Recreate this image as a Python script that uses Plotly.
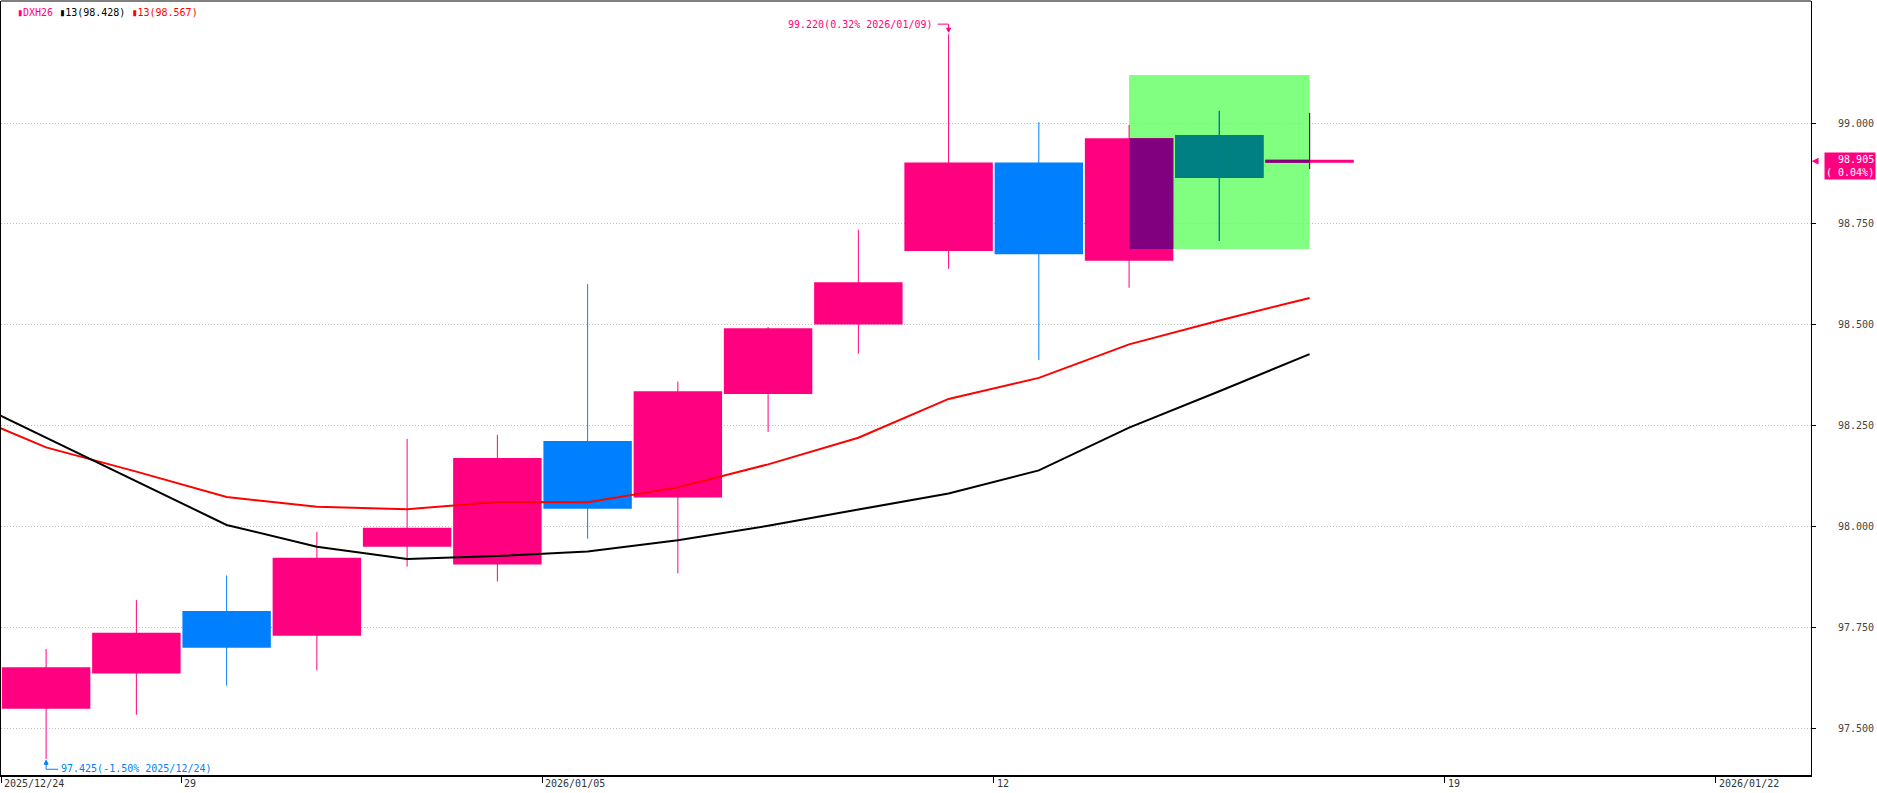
import plotly.graph_objects as go

# ---------------- data ----------------
dates = ["2025/12/24", "2025/12/26", "2025/12/29", "2025/12/30", "2025/12/31",
         "2026/01/02", "2026/01/05", "2026/01/06", "2026/01/07", "2026/01/08",
         "2026/01/09", "2026/01/12", "2026/01/13", "2026/01/14", "2026/01/15"]
opens = [97.550, 97.637, 97.792, 97.731, 97.951, 97.907, 98.213, 98.073, 98.329,
         98.501, 98.683, 98.902, 98.659, 98.970, 98.905]
highs = [97.698, 97.819, 97.880, 97.988, 98.218, 98.228, 98.601, 98.360, 98.495,
         98.736, 99.220, 99.002, 98.995, 99.030, 99.025]
lows = [97.425, 97.535, 97.607, 97.645, 97.902, 97.865, 97.971, 97.885, 98.235,
        98.429, 98.639, 98.413, 98.592, 98.708, 98.886]
closes = [97.653, 97.738, 97.701, 97.924, 97.998, 98.171, 98.045, 98.336, 98.492,
          98.606, 98.902, 98.675, 98.962, 98.864, 98.905]

ma_slots = list(range(-1, 15))
ma13_black = [98.329, 98.221, 98.113, 98.005, 97.951, 97.921, 97.928, 97.939, 97.967,
              98.003, 98.043, 98.083, 98.140, 98.246, 98.336, 98.428]
ma13_red = [98.291, 98.197, 98.137, 98.074, 98.050, 98.044, 98.062, 98.061, 98.098,
            98.155, 98.221, 98.317, 98.369, 98.452, 98.511, 98.567]

x_tick_slots = [0, 2, 6, 11, 16, 19]
x_tick_labels = ["2025/12/24", "29", "2026/01/05", "12", "19", "2026/01/22"]
y_ticks = [97.5, 97.75, 98.0, 98.25, 98.5, 98.75, 99.0]

box_slots = [12, 14]          # highlighted box (slot range)
box_prices = [98.688, 99.119]  # highlighted box (price range)

legend_names = ["DXH26", "13(98.428)", "13(98.567)"]
high_label = "99.220(0.32% 2026/01/09)"
low_label = "97.425(-1.50% 2025/12/24)"
last_label = ["98.905", "( 0.04%)"]

# ---------------- style ----------------
UP = "#FF0080"
DOWN = "#0080FF"
BOX = "#80FF80"
FONT = "DejaVu Sans Mono"
HW = 0.49


def and_color(c1, c2):
    a = int(c1[1:], 16)
    b = int(c2[1:], 16)
    return "#%06X" % (a & b)


fig = go.Figure()

n = len(dates)
xs = list(range(n))

bars = {}   # color -> dict(x, base, h, w)
wicks = {}  # color -> (x list, y list)
flats = {}


def add_bar(color, x0, x1, y0, y1):
    d = bars.setdefault(color, {"x": [], "base": [], "h": [], "w": []})
    d["x"].append((x0 + x1) / 2)
    d["w"].append(x1 - x0)
    d["base"].append(y0)
    d["h"].append(y1 - y0)


def add_seg(store, color, xa, ya, xb, yb):
    d = store.setdefault(color, ([], []))
    d[0].extend([xa, xb, None])
    d[1].extend([ya, yb, None])


mx0, mx1 = box_slots
my0, my1 = box_prices

for i in xs:
    o, h, l, c = opens[i], highs[i], lows[i], closes[i]
    col = DOWN if c < o else UP
    lo, hi = min(o, c), max(o, c)
    add_seg(wicks, col, i, l, i, h)
    if hi - lo > 1e-9:
        add_bar(col, i - HW, i + HW, lo, hi)
    else:
        add_seg(flats, col, i - HW, o, i + HW, o)
    # parts of the candle under the highlighted box (AND-blended colour)
    bcol = and_color(col, BOX)
    if mx0 < i <= mx1:
        ya, yb = max(l, my0), min(h, my1)
        if yb > ya:
            add_seg(wicks, bcol, i, ya, i, yb)
    xa, xb = max(i - HW, mx0), min(i + HW, mx1)
    if xb > xa:
        if hi - lo > 1e-9:
            ya, yb = max(lo, my0), min(hi, my1)
            if yb > ya:
                add_bar(bcol, xa, xb, ya, yb)
        elif my0 <= o <= my1:
            add_seg(flats, bcol, xa, o, xb, o)

# wicks first
for col, (wx, wy) in wicks.items():
    fig.add_trace(go.Scatter(x=wx, y=wy, mode="lines", line=dict(color=col, width=1),
                             hoverinfo="skip", showlegend=False))
# bodies: original colours first, blended ones after
order = [UP, DOWN] + [k for k in bars if k not in (UP, DOWN)]
for col in order:
    if col not in bars:
        continue
    d = bars[col]
    fig.add_trace(go.Bar(x=d["x"], base=d["base"], y=d["h"], width=d["w"],
                         marker=dict(color=col, line=dict(width=0)),
                         hoverinfo="skip", showlegend=False))
for col in [UP, DOWN] + [k for k in flats if k not in (UP, DOWN)]:
    if col not in flats:
        continue
    fx, fy = flats[col]
    fig.add_trace(go.Scatter(x=fx, y=fy, mode="lines", line=dict(color=col, width=3),
                             hoverinfo="skip", showlegend=False))
# re-draw blended wicks on top of bodies
for col, (wx, wy) in wicks.items():
    if col in (UP, DOWN):
        continue
    fig.add_trace(go.Scatter(x=wx, y=wy, mode="lines", line=dict(color=col, width=1),
                             hoverinfo="skip", showlegend=False))

# moving averages
fig.add_trace(go.Scatter(x=ma_slots, y=ma13_red, mode="lines",
                         line=dict(color="#FF0000", width=2), hoverinfo="skip", showlegend=False))
fig.add_trace(go.Scatter(x=ma_slots, y=ma13_black, mode="lines",
                         line=dict(color="#000000", width=2), hoverinfo="skip", showlegend=False))

# highlighted box (below traces, below grid)
fig.add_shape(type="rect", xref="x", yref="y", x0=mx0, x1=mx1, y0=my0, y1=my1,
              fillcolor=BOX, line=dict(width=0), layer="below")

# ---------------- annotations ----------------
ihigh = highs.index(max(highs))
ilow = lows.index(min(lows))
font = dict(family=FONT, size=10)

fig.add_annotation(x=ihigh, y=highs[ihigh], xref="x", yref="y", text=high_label,
                   showarrow=False, xanchor="right", yanchor="middle", xshift=-14, yshift=10,
                   font=dict(font, color=UP))
fig.add_shape(type="path", xref="x", yref="y", xsizemode="pixel", ysizemode="pixel",
              xanchor=ihigh, yanchor=highs[ihigh], path="M-11,10 L0,10 L0,3",
              line=dict(color=UP, width=1))
fig.add_shape(type="path", xref="x", yref="y", xsizemode="pixel", ysizemode="pixel",
              xanchor=ihigh, yanchor=highs[ihigh], path="M-2,6 L2,6 L0,2 Z",
              fillcolor=UP, line=dict(color=UP, width=1))

fig.add_annotation(x=ilow, y=lows[ilow], xref="x", yref="y", text=low_label,
                   showarrow=False, xanchor="left", yanchor="middle", xshift=13, yshift=-9,
                   font=dict(font, color=DOWN))
fig.add_shape(type="path", xref="x", yref="y", xsizemode="pixel", ysizemode="pixel",
              xanchor=ilow, yanchor=lows[ilow], path="M0,-2 L0,-10 L12,-10",
              line=dict(color=DOWN, width=1))
fig.add_shape(type="path", xref="x", yref="y", xsizemode="pixel", ysizemode="pixel",
              xanchor=ilow, yanchor=lows[ilow], path="M-2,-5 L2,-5 L0,-1 Z",
              fillcolor=DOWN, line=dict(color=DOWN, width=1))

# legend line at top-left
leg_cols = [UP, "#000000", "#FF0000"]
leg_text = " ".join("<span style='color:%s'>▮%s</span>" % (c, t) for c, t in zip(leg_cols, legend_names))
fig.add_annotation(x=0, y=1, xref="paper", yref="paper", text=leg_text, showarrow=False,
                   xanchor="left", yanchor="top", xshift=14, yshift=-4, font=font)

# last price tag on the right
fig.add_annotation(x=1, y=closes[-1], xref="paper", yref="y",
                   text="<br>".join(last_label), showarrow=False, align="right",
                   xanchor="left", yanchor="top", xshift=13, yshift=9,
                   bgcolor=UP, borderpad=1, font=dict(font, color="#FFFFFF"))
fig.add_annotation(x=1, y=closes[-1], xref="paper", yref="y", text="◀", showarrow=False,
                   xanchor="left", yanchor="middle", xshift=-1, yshift=1,
                   font=dict(family=FONT, size=11, color=UP))

# x tick labels (left-aligned after each tick)
for k, lab in zip(x_tick_slots, x_tick_labels):
    fig.add_annotation(x=k - 0.5, y=0, xref="x", yref="paper", text=lab, showarrow=False,
                       xanchor="left", yanchor="top", xshift=1, yshift=-1,
                       font=dict(font, color="#333333"))

# top frame line
fig.add_shape(type="line", xref="paper", yref="paper", x0=0, x1=1, y0=1, y1=1,
              line=dict(color="#000000", width=1))

fig.update_layout(
    width=1877, height=793,
    margin=dict(l=1, r=66, t=1, b=18),
    paper_bgcolor="#FFFFFF", plot_bgcolor="#FFFFFF",
    barmode="overlay", showlegend=False,
    xaxis=dict(range=[-0.5, 19.556], showgrid=False, zeroline=False,
               tickvals=[k - 0.5 for k in x_tick_slots], ticks="outside", ticklen=6,
               tickcolor="#000000", showticklabels=False,
               showline=True, linecolor="#000000", linewidth=2, mirror=False),
    yaxis=dict(range=[97.386, 99.302], side="right", tickvals=y_ticks, tickformat=".3f",
               ticks="outside", ticklen=4, tickcolor="#000000",
               showgrid=True, gridcolor="#C0C0C0", griddash="1px,2px", gridwidth=1,
               zeroline=False, showline=True, linecolor="#000000", linewidth=1, mirror=True,
               tickfont=dict(family=FONT, size=10, color="#444444"), ticklabelstandoff=20),
)

fig.write_html("out.html", config={"displayModeBar": False},
               post_script="document.body.style.margin='0';document.body.style.overflow='hidden';")
